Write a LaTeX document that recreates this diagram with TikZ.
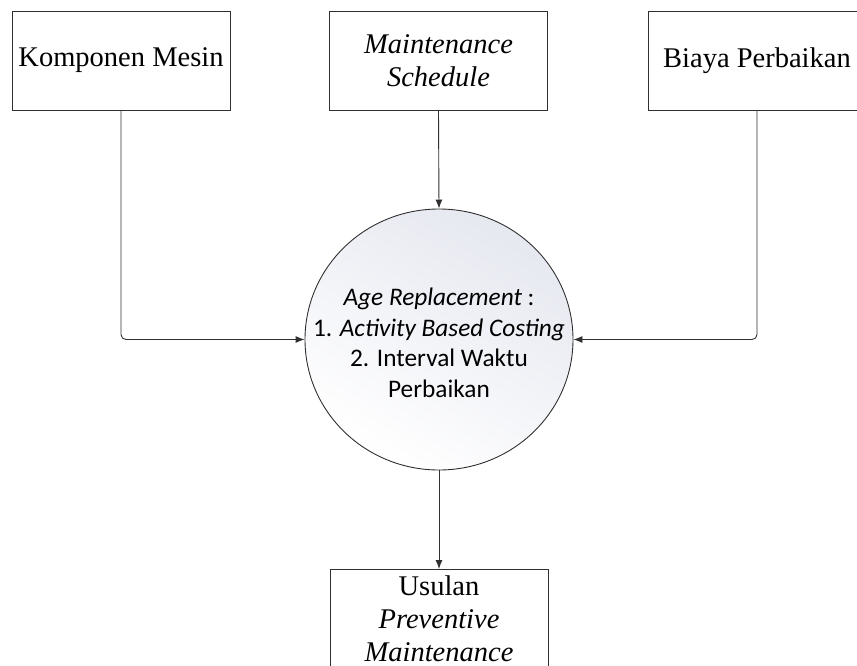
\documentclass[tikz,border=0pt]{standalone}
\usepackage{fontspec}
\setmainfont{Liberation Serif}
\newfontfamily\calfont{Carlito}
\usetikzlibrary{arrows.meta,shapes.geometric}
\definecolor{lineC}{HTML}{303030}
\definecolor{shadeC}{HTML}{E6E8F0}
\tikzset{
  boxnode/.style={draw=lineC, line width=0.9pt, fill=white, minimum width=218, minimum height=99, inner sep=0pt, align=center, font=\fontsize{28.5}{33}\selectfont},
  conn/.style={draw=lineC, line width=0.9pt, rounded corners=5, -{Latex[length=9pt,width=7pt]}},
}
\begin{document}
\begin{tikzpicture}[x=1pt,y=-1pt]
\clip (0,0) rectangle (857,665);
\useasboundingbox (0,0) rectangle (857,665);
\node[boxnode] (komp) at (121,60.5) {Komponen Mesin};
\node[boxnode] (sched) at (438.5,60.5) {\itshape Maintenance\\\itshape Schedule};
\node[boxnode] (biaya) at (757,60.5) {Biaya Perbaikan};
\node[ellipse, draw=lineC, line width=0.9pt, minimum width=268, minimum height=261, inner sep=0pt,
      top color=shadeC, bottom color=white, shading angle=-30] (age) at (439,339.5) {};
\node[align=center, inner sep=0pt, font=\calfont\fontsize{25.3}{30.5}\selectfont] (agetext) at (439,343)
  {\itshape Age Replacement\upshape\ :\\1. \itshape Activity Based Costing\\2. Interval Waktu\\Perbaikan};
\node[boxnode, minimum height=140, anchor=north] (usul) at (439,569) {};
\node[font=\fontsize{28.5}{33}\selectfont, align=center, anchor=north] (usultext) at (439,572) {Usulan\\\itshape Preventive\\\itshape Maintenance};
\draw[conn] (komp.south) |- (age.west);
\draw[conn] (biaya.south) |- (age.east);
\draw[conn] (sched.south) -- (age.north);
\draw[conn] (age.south) -- (usul.north);
\end{tikzpicture}
\end{document}
